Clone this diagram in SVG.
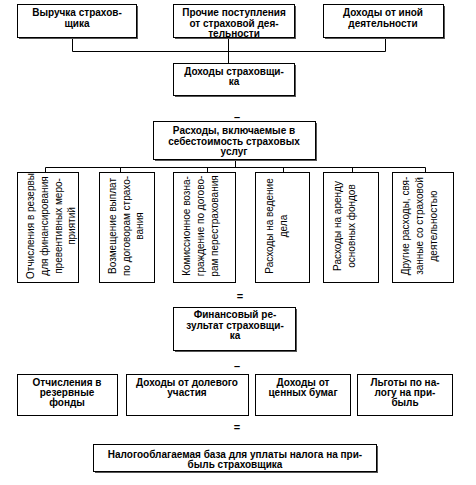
<svg xmlns="http://www.w3.org/2000/svg" width="476" height="485" viewBox="0 0 476 485">
<style>
.sh{fill:#555}
.bx{fill:#fff;stroke:#000;stroke-width:1}
.t{font-family:"Liberation Sans",Arial,sans-serif;font-size:10px;font-weight:bold;text-anchor:middle;fill:#000}
.v{font-family:"Liberation Sans",Arial,sans-serif;font-size:10px;text-anchor:middle;fill:#000}
.c{fill:none;stroke:#000;stroke-width:1}
.op{font-family:"Liberation Sans",Arial,sans-serif;font-size:11px;font-weight:bold;text-anchor:middle;fill:#000}
</style>
<rect width="476" height="485" fill="#fff"/>
<g id="connectors">
<path class="c" d="M72.5 37V51.5H385.5V37M228.5 37V63"/>
<path class="c" d="M235.5 159V167.5M45.5 172V167.5H425.5V172M120.5 167.5V172M207.5 167.5V172M283.5 167.5V172M352.5 167.5V172"/>
</g>
<g id="n1"><rect class="sh" x="19" y="6" width="119" height="33"/><rect class="bx" x="17.5" y="4.5" width="119" height="33"/>
<text class="t" x="77" y="16">Выручка страхов-<tspan x="77" dy="11">щика</tspan></text></g>
<g id="n2"><rect class="sh" x="175" y="6" width="121" height="33"/><rect class="bx" x="173.5" y="4.5" width="121" height="33"/>
<text class="t" x="234" y="16">Прочие поступления<tspan x="234" dy="10.5">от страховой дея-</tspan><tspan x="234" dy="10.5">тельности</tspan></text></g>
<g id="n3"><rect class="sh" x="325" y="6" width="120" height="33"/><rect class="bx" x="323.5" y="4.5" width="120" height="33"/>
<text class="t" x="383" y="16">Доходы от иной<tspan x="383" dy="11">деятельности</tspan></text></g>
<g id="n4"><rect class="sh" x="175" y="65" width="121" height="32"/><rect class="bx" x="173.5" y="63.5" width="121" height="32"/>
<text class="t" x="234" y="75">Доходы страховщи-<tspan x="234" dy="10">ка</tspan></text></g>
<text class="op" x="237" y="121">–</text>
<g id="n5"><rect class="sh" x="155" y="123" width="162" height="38"/><rect class="bx" x="153.5" y="121.5" width="162" height="38"/>
<text class="t" x="234" y="134">Расходы, включаемые в<tspan x="234" dy="10.5">себестоимость страховых</tspan><tspan x="234" dy="10.5">услуг</tspan></text></g>
<g id="v1"><rect class="bx" x="17.5" y="172.5" width="61" height="110"/>
<text class="v" transform="translate(0,226) rotate(-90)"><tspan x="0" y="34">Отчисления в резервы</tspan><tspan x="0" y="48">для финансирования</tspan><tspan x="0" y="62">превентивных меро-</tspan><tspan x="0" y="75">приятий</tspan></text></g>
<g id="v2"><rect class="bx" x="99.5" y="172.5" width="55" height="110"/>
<text class="v" transform="translate(0,226) rotate(-90)"><tspan x="0" y="116">Возмещение выплат</tspan><tspan x="0" y="130">по договорам страхо-</tspan><tspan x="0" y="143">вания</tspan></text></g>
<g id="v3"><rect class="bx" x="173.5" y="172.5" width="62" height="110"/>
<text class="v" transform="translate(0,226) rotate(-90)"><tspan x="0" y="190">Комиссионное возна-</tspan><tspan x="0" y="204">граждение по догово-</tspan><tspan x="0" y="218">рам перестрахования</tspan></text></g>
<g id="v4"><rect class="bx" x="255.5" y="172.5" width="54" height="110"/>
<text class="v" transform="translate(0,226) rotate(-90)"><tspan x="0" y="273">Расходы на ведение</tspan><tspan x="0" y="287">дела</tspan></text></g>
<g id="v5"><rect class="bx" x="323.5" y="172.5" width="55" height="110"/>
<text class="v" transform="translate(0,226) rotate(-90)"><tspan x="0" y="341">Расходы на аренду</tspan><tspan x="0" y="355">основных фондов</tspan></text></g>
<g id="v6"><rect class="bx" x="392.5" y="172.5" width="61" height="110"/>
<text class="v" transform="translate(0,226) rotate(-90)"><tspan x="0" y="409">Другие расходы, свя-</tspan><tspan x="0" y="423">занные со страховой</tspan><tspan x="0" y="437">деятельностью</tspan></text></g>
<text class="op" x="240" y="300">=</text>
<g id="n6"><rect class="sh" x="175" y="309" width="122" height="43"/><rect class="bx" x="173.5" y="307.5" width="122" height="43"/>
<text class="t" x="235" y="318">Финансовый ре-<tspan x="235" dy="10.5">зультат страховщи-</tspan><tspan x="235" dy="10">ка</tspan></text></g>
<text class="op" x="237" y="370">–</text>
<g id="b1"><rect class="bx" x="17.5" y="374.5" width="100" height="41"/>
<text class="t" x="67" y="386">Отчисления в<tspan x="67" dy="10">резервные</tspan><tspan x="67" dy="10">фонды</tspan></text></g>
<g id="b2"><rect class="bx" x="126.5" y="374.5" width="122" height="41"/>
<text class="t" x="187" y="386">Доходы от долевого<tspan x="187" dy="10">участия</tspan></text></g>
<g id="b3"><rect class="bx" x="255.5" y="374.5" width="95" height="41"/>
<text class="t" x="303" y="386">Доходы от<tspan x="303" dy="10">ценных бумаг</tspan></text></g>
<g id="b4"><rect class="bx" x="357.5" y="374.5" width="95" height="41"/>
<text class="t" x="405" y="386">Льготы по на-<tspan x="405" dy="10">логу на при-</tspan><tspan x="405" dy="10">быль</tspan></text></g>
<text class="op" x="237" y="431">=</text>
<g id="n7"><rect class="sh" x="95" y="446" width="283" height="27"/><rect class="bx" x="93.5" y="444.5" width="283" height="27"/>
<text class="t" x="235" y="458">Налогооблагаемая база для уплаты налога на при-<tspan x="235" dy="10">быль страховщика</tspan></text></g>
</svg>
